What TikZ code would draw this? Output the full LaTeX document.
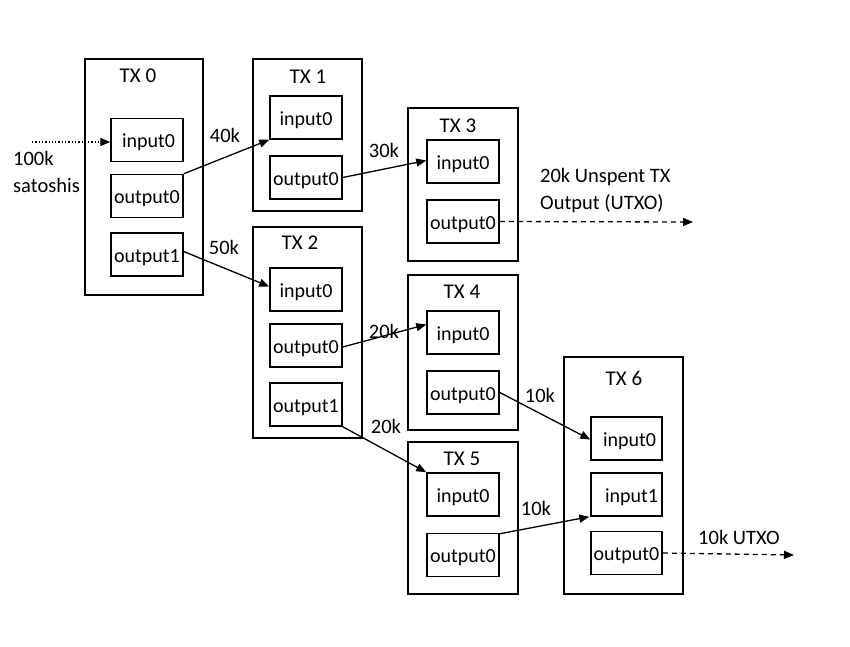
\documentclass[tikz,border=0pt]{standalone}
\usepackage{fontspec}
\setmainfont{Carlito}
\usetikzlibrary{arrows.meta}
\begin{document}
\begin{tikzpicture}[x=1pt,y=-1pt,
  txbox/.style={draw, line width=1.5pt, inner sep=0pt},
  slot/.style={draw, line width=1.5pt, minimum width=72pt, minimum height=43pt, inner sep=0pt, text height=19pt, text depth=4pt, font=\fontsize{20}{24}\selectfont},
  ttl/.style={font=\fontsize{21}{25}\selectfont, inner sep=0pt},
  lbl/.style={font=\fontsize{20.5}{27}\selectfont, inner sep=0pt},
  arr/.style={line width=1.3pt, -{Triangle[length=10pt,width=8pt]}},
  dsh/.style={arr, dashed, dash pattern=on 5pt off 4pt},
  dtt/.style={arr, dotted}
]
\useasboundingbox (0,0) rectangle (850,646);
% outer boxes
\node[txbox, minimum width=118pt, minimum height=236pt] (tx0) at (144,177) {};
\node[txbox, minimum width=109pt, minimum height=152pt] (tx1) at (307.5,135) {};
\node[txbox, minimum width=109pt, minimum height=211pt] (tx2) at (307.5,332.5) {};
\node[txbox, minimum width=110pt, minimum height=153pt] (tx3) at (463,184.5) {};
\node[txbox, minimum width=110pt, minimum height=155pt] (tx4) at (463,352.5) {};
\node[txbox, minimum width=110pt, minimum height=152pt] (tx5) at (463,518) {};
\node[txbox, minimum width=119pt, minimum height=237pt] (tx6) at (623.5,475.5) {};
% titles
\node[ttl] (t0) at (138,76) {TX 0};
\node[ttl] (t1) at (308,77) {TX 1};
\node[ttl] (t2) at (300,243) {TX 2};
\node[ttl] (t3) at (458,126) {TX 3};
\node[ttl] (t4) at (462,292) {TX 4};
\node[ttl] (t5) at (462,459) {TX 5};
\node[ttl] (t6) at (624,378) {TX 6};
% slots
\node[slot] (a0) at (147,140) {\hspace{3pt}input0};
\node[slot] (a1) at (147,196) {output0};
\node[slot] (a2) at (147,254.5) {output1};
\node[slot] (b0) at (306,117.5) {input0};
\node[slot] (b1) at (306,177.5) {output0};
\node[slot] (c0) at (306,289.5) {input0};
\node[slot] (c1) at (306,345.5) {output0};
\node[slot] (c2) at (306,404.5) {output1};
\node[slot] (d0) at (463,161.5) {input0};
\node[slot] (d1) at (463,221.5) {output0};
\node[slot] (e0) at (463,332.5) {input0};
\node[slot] (e1) at (463,392.5) {output0};
\node[slot] (f0) at (463,494.5) {input0};
\node[slot] (f1) at (463,555) {output0};
\node[slot, minimum width=71pt] (g0) at (626.5,438.5) {\hspace{6pt}input0};
\node[slot, minimum width=71pt] (g1) at (626.5,494.5) {\hspace{10pt}input1};
\node[slot, minimum width=71pt] (g2) at (626.5,553) {output0};
% free ends
\coordinate (src) at (32,142);
\coordinate (u1) at (693,222);
\coordinate (u2) at (794,555);
% connectors
\draw[dtt] (src) -- (a0.west |- src);
\draw[arr] (a1.north east) -- (b0.south west);
\draw[arr] ([yshift=3pt]a2.east) -- ([yshift=3pt]c0.west);
\draw[arr] (b1.east) -- ([yshift=1pt]d0.west);
\draw[arr] ([yshift=-1.5pt]c1.east) -- ([yshift=8pt]e0.west);
\draw[arr] (c2.south east) -- (f0.north west);
\draw[arr] (e1.east) -- ([yshift=-1pt]g0.west);
\draw[arr] ([yshift=-1pt]f1.north east) -- ([xshift=-1pt]g1.south west);
\draw[dsh] (d1.east) -- (u1);
\draw[dsh] (g2.east) -- (u2);
% labels
\node[lbl] (l40) at (225,135) {40k};
\node[lbl] (l50) at (224,247) {50k};
\node[lbl] (l30) at (384,150) {30k};
\node[lbl] (l20a) at (384,331) {20k};
\node[lbl] (l20b) at (386,426) {20k};
\node[lbl] (l10a) at (540,395) {10k};
\node[lbl] (l10b) at (536,508) {10k};
\node[lbl, align=left, anchor=north west] (sat) at (13,151) {100k\\satoshis};
\node[lbl, align=left, anchor=north west] (utxo1) at (540,168) {20k Unspent TX\\Output (UTXO)};
\node[lbl, anchor=west] (utxo2) at (698,537) {10k UTXO};
\end{tikzpicture}
\end{document}
